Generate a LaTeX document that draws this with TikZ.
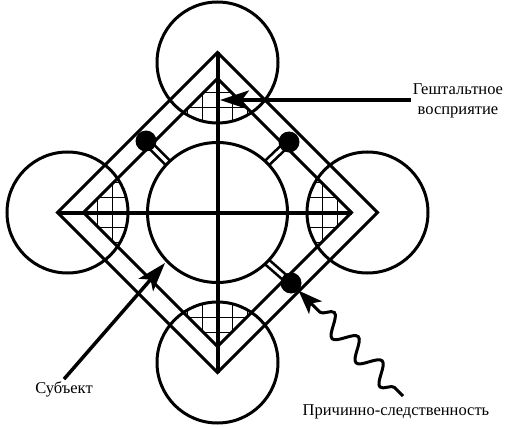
\documentclass[tikz,border=0pt]{standalone}
\usepackage{fontspec}
\setmainfont{Liberation Serif}
\usetikzlibrary{arrows.meta,decorations.pathmorphing,calc}
\begin{document}
\begin{tikzpicture}[x=1pt,y=-1pt,
  ring/.style={circle,draw,line width=3pt,inner sep=0pt,minimum size=121pt},
  blob/.style={circle,fill=black,inner sep=0pt,minimum size=21pt},
  lab/.style={font=\fontsize{16.5}{20}\selectfont,align=center,inner sep=2pt},
  band/.style={line width=3pt,line join=miter},
  axisline/.style={line width=4pt},
  hatch/.style={line width=0.9pt},
  stubout/.style={line width=8.5pt},
  stubin/.style={line width=3.2pt,white},
  ptr/.style={line width=3.5pt,-{Stealth[length=29pt,width=19pt,inset=7pt]}},
  wave/.style={line width=3pt,-{Stealth[length=24pt,width=18pt,inset=6pt]},decorate,
    decoration={snake,amplitude=10pt,segment length=34pt,pre length=12pt,post length=26pt}},
]
\fill[white] (0,0) rectangle (512,428);
\useasboundingbox (0,0) rectangle (512,428);
\coordinate (C) at (217.5,212.5);
% hatching
\begin{scope}
  \clip (217.5,78.5) -- (351.5,212.5) -- (217.5,346.5) -- (83.5,212.5) -- cycle;
  \clip (217.5,62.5) circle[radius=60.5] (367.5,212.5) circle[radius=60.5]
        (217.5,362.5) circle[radius=60.5] (67.5,212.5) circle[radius=60.5];
  \foreach \k in {-10,...,10}{
    \draw[hatch] ($(C)+(\k*15,-160)$) -- ++(0,320);
    \draw[hatch] ($(C)+(-160,\k*15)$) -- ++(320,0);
  }
\end{scope}
% diamonds
\draw[band] (217.5,52.5) -- (377.5,212.5) -- (217.5,372.5) -- (57.5,212.5) -- cycle;
\draw[band] (217.5,78.5) -- (351.5,212.5) -- (217.5,346.5) -- (83.5,212.5) -- cycle;
% axes
\draw[axisline] (217.5,52.5) -- (217.5,372.5);
\draw[axisline] (57.5,212.5) -- (351.5,212.5);
% outer circles
\node[ring] (ctop) at (217.5,62.5) {};
\node[ring] (cright) at (367.5,212.5) {};
\node[ring] (cbottom) at (217.5,362.5) {};
\node[ring] (cleft) at (67.5,212.5) {};
% stubs
\coordinate (s1) at (146,141);
\coordinate (s2) at (289,142);
\coordinate (s3) at (291,283);
\coordinate (e1) at ($(C)+(-49.5,-49.5)$);
\coordinate (e2) at ($(C)+(49.5,-49.5)$);
\coordinate (e3) at ($(C)+(49.5,49.5)$);
\foreach \a/\b in {s1/e1,s2/e2,s3/e3}{
  \draw[stubout] (\a) -- (\b);
  \draw[stubin] (\a) -- (\b);
}
% central circle
\node[ring,minimum size=140pt] (mid) at (C) {};
% dots
\node[blob] (d1) at (s1) {};
\node[blob] (d2) at (s2) {};
\node[blob] (d3) at (s3) {};
% labels and pointers
\node[lab] (gest) at (458,101) {Гештальтное\\восприятие};
\coordinate (gtip) at (220,100);
\draw[ptr] (gest.west |- gtip) -- (gtip);
\node[lab] (subj) at (64,389) {Субъект};
\coordinate (stip) at (165,263);
\draw[ptr] (subj.north) -- (stip);
\node[lab] (caus) at (396,412) {Причинно-следственность};
\coordinate (wbase) at (403,396);
\draw[wave] (wbase) -- (d3);
\end{tikzpicture}
\end{document}
